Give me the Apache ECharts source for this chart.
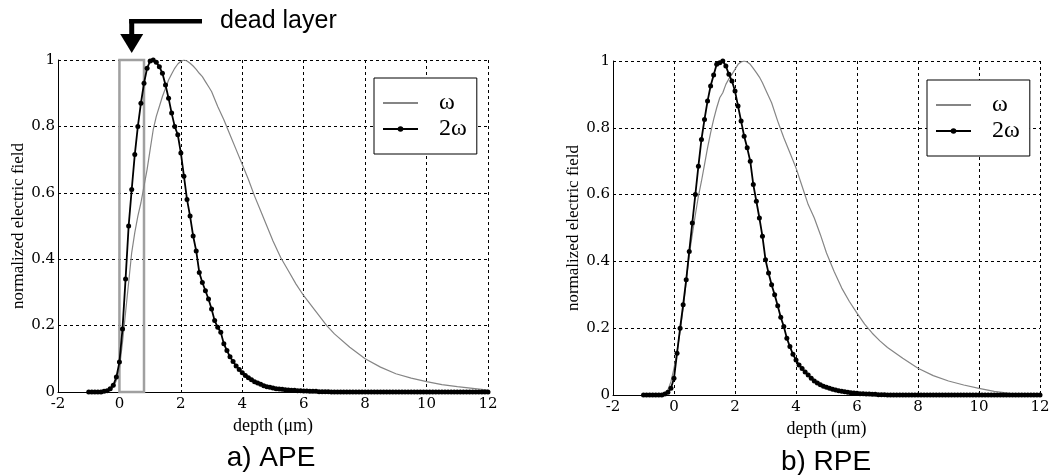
<!DOCTYPE html>
<html>
<head>
<meta charset="utf-8">
<script src="https://cdn.jsdelivr.net/npm/echarts@6/dist/echarts.min.js"></script>
<style>
  html, body { margin: 0; padding: 0; background: #fff; }
  #chart { width: 1057px; height: 475px; }
</style>
</head>
<body>
<div id="chart"></div>
<script>
// Depth grid (µm) of the second-harmonic (2ω) samples
const depth = [
  -1, -0.9, -0.8, -0.7, -0.6, -0.5, -0.4, -0.3, -0.2, -0.1, 0,
  0.1, 0.2, 0.3, 0.4, 0.5, 0.6, 0.7, 0.8, 0.9, 1,
  1.1, 1.2, 1.3, 1.4, 1.5, 1.6, 1.7, 1.8, 1.9, 2,
  2.1, 2.2, 2.3, 2.4, 2.5, 2.6, 2.7, 2.8, 2.9, 3,
  3.1, 3.2, 3.3, 3.4, 3.5, 3.6, 3.7, 3.8, 3.9, 4,
  4.1, 4.2, 4.3, 4.4, 4.5, 4.6, 4.7, 4.8, 4.9, 5,
  5.1, 5.2, 5.3, 5.4, 5.5, 5.6, 5.7, 5.8, 5.9, 6,
  6.1, 6.2, 6.3, 6.4, 6.5, 6.6, 6.7, 6.8, 6.9, 7,
  7.1, 7.2, 7.3, 7.4, 7.5, 7.6, 7.7, 7.8, 7.9, 8,
  8.1, 8.2, 8.3, 8.4, 8.5, 8.6, 8.7, 8.8, 8.9, 9,
  9.1, 9.2, 9.3, 9.4, 9.5, 9.6, 9.7, 9.8, 9.9, 10,
  10.1, 10.2, 10.3, 10.4, 10.5, 10.6, 10.7, 10.8, 10.9, 11,
  11.1, 11.2, 11.3, 11.4, 11.5, 11.6, 11.7, 11.8, 11.9, 12
];

// Normalized 2ω field, annealed proton exchange (APE)
const twoOmegaAPE = [
  0, 0, 0, 0, 0, 0.002, 0.004, 0.01, 0.02, 0.045, 0.09,
  0.19, 0.34, 0.5, 0.61, 0.715, 0.8, 0.87, 0.93, 0.975, 0.997,
  1.0, 0.993, 0.98, 0.96, 0.925, 0.885, 0.84, 0.8, 0.775, 0.72,
  0.65, 0.58, 0.53, 0.47, 0.425, 0.36, 0.33, 0.305, 0.28, 0.25,
  0.215, 0.195, 0.18, 0.145, 0.125, 0.106, 0.092, 0.078, 0.068, 0.058,
  0.05, 0.043, 0.037, 0.031, 0.027, 0.023, 0.019, 0.016, 0.014, 0.012,
  0.01, 0.009, 0.008, 0.007, 0.006, 0.005, 0.005, 0.004, 0.004, 0.003,
  0.003, 0.002, 0.002, 0.002, 0.001, 0.001, 0.001, 0.001, 0, 0,
  0, 0, 0, 0, 0, 0, 0, 0, 0, 0,
  0, 0, 0, 0, 0, 0, 0, 0, 0, 0,
  0, 0, 0, 0, 0, 0, 0, 0, 0, 0,
  0, 0, 0, 0, 0, 0, 0, 0, 0, 0,
  0, 0, 0, 0, 0, 0, 0, 0, 0, 0
];

// Normalized 2ω field, reverse proton exchange (RPE)
const twoOmegaRPE = [
  0, 0, 0, 0, 0, 0, 0, 0.003, 0.008, 0.02, 0.05,
  0.125, 0.2, 0.27, 0.345, 0.43, 0.515, 0.6, 0.685, 0.765, 0.825,
  0.88, 0.925, 0.958, 0.99, 0.995, 1.0, 0.985, 0.96, 0.94, 0.91,
  0.865, 0.82, 0.775, 0.74, 0.7, 0.63, 0.58, 0.53, 0.475, 0.405,
  0.365, 0.33, 0.3, 0.267, 0.233, 0.205, 0.17, 0.145, 0.122, 0.105,
  0.09, 0.079, 0.069, 0.06, 0.05, 0.042, 0.036, 0.031, 0.026, 0.023,
  0.02, 0.017, 0.015, 0.013, 0.011, 0.01, 0.008, 0.007, 0.006, 0.005,
  0.004, 0.004, 0.003, 0.003, 0.002, 0.002, 0.001, 0.001, 0.001, 0,
  0, 0, 0, 0, 0, 0, 0, 0, 0, 0,
  0, 0, 0, 0, 0, 0, 0, 0, 0, 0,
  0, 0, 0, 0, 0, 0, 0, 0, 0, 0,
  0, 0, 0, 0, 0, 0, 0, 0, 0, 0,
  0, 0, 0, 0, 0, 0, 0, 0, 0, 0
];

// Depth grid (µm) of the fundamental (ω) curves
const depthOmega = [
  -1, -0.5, -0.3, -0.2, -0.1, 0, 0.1, 0.2, 0.3, 0.4, 0.5, 0.6, 0.7, 0.8, 0.9,
  1, 1.1, 1.2, 1.3, 1.4, 1.5, 1.6, 1.7, 1.8, 1.9, 2, 2.1, 2.2, 2.3, 2.4,
  2.5, 2.6, 2.7, 2.8, 2.9, 3, 3.2, 3.4, 3.6, 3.8, 4, 4.2, 4.4, 4.6, 4.8,
  5, 5.25, 5.5, 5.75, 6, 6.25, 6.5, 6.75, 7, 7.5, 8, 8.5, 9, 9.5, 10,
  10.5, 11, 11.5, 12
];

// Normalized ω field, APE
const omegaAPE = [
  0, 0, 0.005, 0.015, 0.035, 0.07, 0.15, 0.24, 0.33, 0.42, 0.48, 0.53, 0.57, 0.62, 0.67,
  0.73, 0.79, 0.83, 0.86, 0.89, 0.915, 0.94, 0.958, 0.975, 0.988, 0.996, 1.0, 0.997, 0.99, 0.982,
  0.972, 0.96, 0.95, 0.935, 0.92, 0.905, 0.86, 0.82, 0.775, 0.73, 0.685, 0.64, 0.59, 0.545, 0.5,
  0.455, 0.405, 0.365, 0.325, 0.29, 0.26, 0.23, 0.2, 0.175, 0.135, 0.1, 0.075, 0.055, 0.042, 0.031,
  0.022, 0.016, 0.011, 0.006
];

// Normalized ω field, RPE
const omegaRPE = [
  0, 0, 0.005, 0.015, 0.04, 0.08, 0.13, 0.19, 0.26, 0.34, 0.42, 0.48, 0.54, 0.595, 0.64,
  0.69, 0.74, 0.785, 0.825, 0.86, 0.89, 0.905, 0.93, 0.947, 0.96, 0.975, 0.99, 0.997, 1.0, 0.997,
  0.99, 0.978, 0.965, 0.952, 0.935, 0.915, 0.875, 0.82, 0.77, 0.725, 0.68, 0.625, 0.57, 0.53, 0.48,
  0.425, 0.37, 0.32, 0.28, 0.245, 0.212, 0.185, 0.162, 0.142, 0.11, 0.08, 0.058, 0.042, 0.03, 0.02,
  0.011, 0.005, 0.002, 0
];

// Dead (non-nonlinear) surface layer of the APE guide, µm
const deadLayer = [0, 0.8];

const seriesNames = ['ω', '2ω'];
const panelTitles = ['a) APE', 'b) RPE'];
const xAxisTitle = 'depth (μm)';
const yAxisTitle = 'normalized electric field';
const calloutText = 'dead layer';

const zip = (xs, ys) => xs.map((x, i) => [x, ys[i]]);

const TICK_FONT = { fontFamily: 'DejaVu Serif', fontSize: 15, color: '#000' };
const NAME_FONT = { fontFamily: 'Liberation Serif', fontSize: 18, color: '#000' };
const dashed = { color: '#000', width: 1, type: [3, 3] };

function xAxisFor(gridIndex) {
  return {
    type: 'value', gridIndex, min: -2, max: 12, interval: 2,
    name: xAxisTitle, nameLocation: 'middle', nameGap: 18,
    nameTextStyle: NAME_FONT,
    axisLine: { show: true, onZero: false, lineStyle: { color: '#000', width: 1 } },
    axisTick: { show: false },
    axisLabel: Object.assign({ margin: 5 }, TICK_FONT),
    splitLine: { show: true, lineStyle: dashed }
  };
}

function yAxisFor(gridIndex) {
  return {
    type: 'value', gridIndex, min: 0, max: 1, interval: 0.2,
    name: yAxisTitle, nameLocation: 'middle', nameGap: 31, nameRotate: 90,
    nameTextStyle: Object.assign({}, NAME_FONT, { fontSize: 17 }),
    axisLine: { show: true, onZero: false, lineStyle: { color: '#000', width: 1 } },
    axisTick: { show: false },
    axisLabel: Object.assign({ margin: 3 }, TICK_FONT),
    splitLine: { show: true, lineStyle: dashed }
  };
}

function legendFor(left, top) {
  return {
    data: [{ name: seriesNames[0], itemStyle: { opacity: 0 } }, { name: seriesNames[1] }],
    orient: 'vertical', left, top,
    padding: [13, 10, 13, 8],
    backgroundColor: '#fff',
    borderColor: '#000', borderWidth: 1,
    itemWidth: 35, itemHeight: 7, itemGap: 2,
    selectedMode: false,
    formatter: name => '{t|' + name + '}',
    textStyle: {
      rich: { t: { fontFamily: 'Liberation Serif', fontSize: 24, lineHeight: 20, color: '#000', padding: [0, 0, 0, 16] } }
    }
  };
}

const omegaStyle = {
  type: 'line', showSymbol: false, symbol: 'none', smooth: false,
  lineStyle: { color: '#858585', width: 1.2 },
  itemStyle: { color: '#858585' },
  z: 2
};
const twoOmegaStyle = {
  type: 'line', symbol: 'circle', symbolSize: 5, showSymbol: true,
  lineStyle: { color: '#000', width: 1.8 },
  itemStyle: { color: '#000' },
  z: 3
};

const chart = echarts.init(document.getElementById('chart'), null, { renderer: 'canvas' });

chart.setOption({
  animation: false,
  backgroundColor: '#fff',
  grid: [
    { left: 58, top: 60, width: 430, height: 332 },
    { left: 613, top: 61, width: 427, height: 334 }
  ],
  xAxis: [xAxisFor(0), xAxisFor(1)],
  yAxis: [yAxisFor(0), yAxisFor(1)],
  legend: [legendFor(374, 78), legendFor(927, 80)],
  series: [
    Object.assign({}, omegaStyle, {
      name: seriesNames[0], xAxisIndex: 0, yAxisIndex: 0,
      data: zip(depthOmega, omegaAPE),
      markArea: {
        silent: true,
        itemStyle: { color: 'rgba(0,0,0,0)', borderColor: '#a0a0a0', borderWidth: 2.5 },
        data: [[{ xAxis: deadLayer[0], yAxis: 0 }, { xAxis: deadLayer[1], yAxis: 1 }]]
      }
    }),
    Object.assign({}, twoOmegaStyle, {
      name: seriesNames[1], xAxisIndex: 0, yAxisIndex: 0,
      data: zip(depth, twoOmegaAPE)
    }),
    Object.assign({}, omegaStyle, {
      name: seriesNames[0], xAxisIndex: 1, yAxisIndex: 1,
      data: zip(depthOmega, omegaRPE)
    }),
    Object.assign({}, twoOmegaStyle, {
      name: seriesNames[1], xAxisIndex: 1, yAxisIndex: 1,
      data: zip(depth, twoOmegaRPE)
    })
  ]
});

// Callout arrow pointing at the middle of the dead layer, plus panel captions
const arrowX = chart.convertToPixel({ xAxisIndex: 0, yAxisIndex: 0 }, [(deadLayer[0] + deadLayer[1]) / 2, 1])[0];
const captionY = 458;
chart.setOption({
  graphic: [
    { type: 'rect', shape: { x: arrowX - 2.5, y: 19, width: 5, height: 17 }, style: { fill: '#000' }, silent: true },
    { type: 'rect', shape: { x: arrowX - 2.5, y: 19, width: 202 - (arrowX - 2.5), height: 4.5 }, style: { fill: '#000' }, silent: true },
    { type: 'polygon', shape: { points: [[arrowX - 11.5, 34], [arrowX + 11.5, 34], [arrowX, 53]] }, style: { fill: '#000' }, silent: true },
    { type: 'text', x: 220, y: 21, silent: true,
      style: { text: calloutText, fill: '#000', font: '25px "Liberation Sans", Arial, sans-serif', textVerticalAlign: 'middle' } },
    { type: 'text', x: 271, y: captionY, silent: true,
      style: { text: panelTitles[0], fill: '#000', font: '28px "Liberation Sans", Arial, sans-serif', textAlign: 'center', textVerticalAlign: 'middle' } },
    { type: 'text', x: 826, y: captionY + 4, silent: true,
      style: { text: panelTitles[1], fill: '#000', font: '28px "Liberation Sans", Arial, sans-serif', textAlign: 'center', textVerticalAlign: 'middle' } }
  ]
});
</script>
</body>
</html>
